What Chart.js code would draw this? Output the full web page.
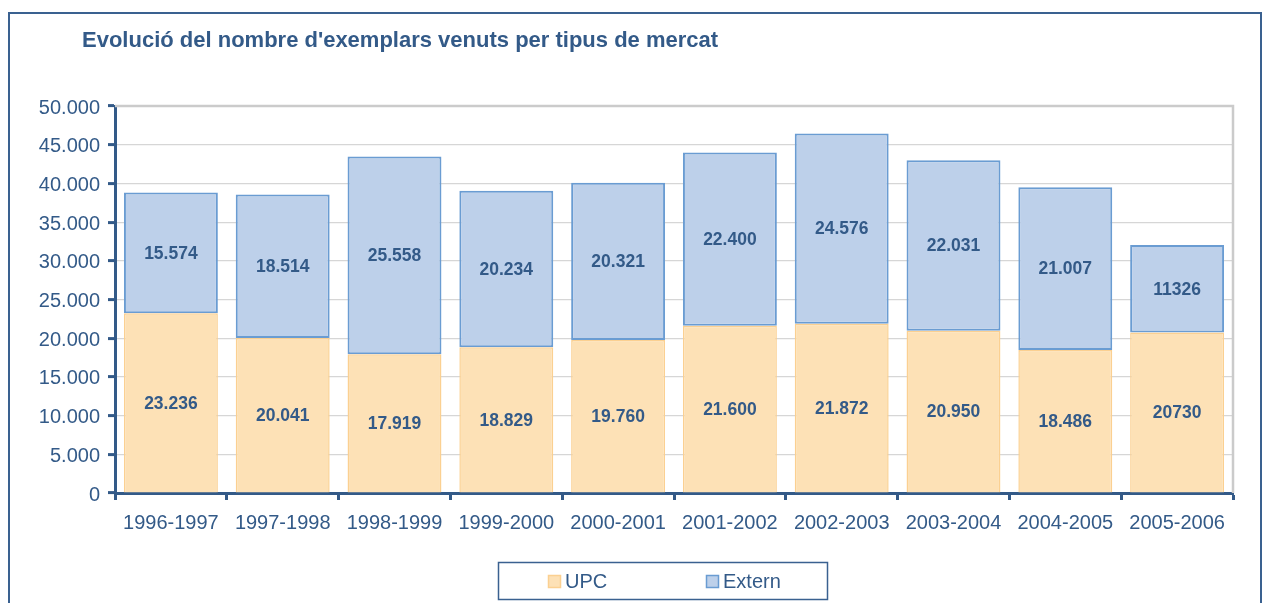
<!DOCTYPE html>
<html>
<head>
<meta charset="utf-8">
<script src="https://cdn.jsdelivr.net/npm/chart.js@4.4.1/dist/chart.umd.min.js"></script>
<style>
  html, body { margin: 0; padding: 0; background: #fff; }
  #wrap { width: 1262px; height: 603px; position: relative; }
</style>
</head>
<body>
<div id="wrap"><canvas id="chart" width="1262" height="603"></canvas></div>
<script>
// ------------------------
// Data
// ------------------------
const seasons = ["1996-1997", "1997-1998", "1998-1999", "1999-2000", "2000-2001",
                 "2001-2002", "2002-2003", "2003-2004", "2004-2005", "2005-2006"];
const upcValues = [23236, 20041, 17919, 18829, 19760, 21600, 21872, 20950, 18486, 20730];
const externValues = [15574, 18514, 25558, 20234, 20321, 22400, 24576, 22031, 21007, 11326];
const upcText = ["23.236", "20.041", "17.919", "18.829", "19.760", "21.600", "21.872", "20.950", "18.486", "20730"];
const externText = ["15.574", "18.514", "25.558", "20.234", "20.321", "22.400", "24.576", "22.031", "21.007", "11326"];
const titleText = "Evolució del nombre d'exemplars venuts per tipus de mercat";

const DARK = "#335A88";
const FONT = "Arial, 'Liberation Sans', sans-serif";

const fmt = v => String(v).replace(/\B(?=(\d{3})+(?!\d))/g, ".");

// ------------------------
// Plugins
// ------------------------
const framePlugin = {
    id: "frame",
    beforeDraw(chart) {
        const ctx = chart.ctx;
        ctx.save();
        ctx.strokeStyle = "#3A6190";
        ctx.lineWidth = 2;
        ctx.strokeRect(9, 13, 1252, 700);
        ctx.fillStyle = DARK;
        ctx.font = "bold 22px " + FONT;
        ctx.textBaseline = "alphabetic";
        ctx.textAlign = "left";
        ctx.fillText(titleText, 82, 47);
        ctx.restore();
    },
    beforeDatasetsDraw(chart) {
        const { ctx, chartArea } = chart;
        ctx.save();
        ctx.strokeStyle = "#CBCBCB";
        ctx.lineWidth = 2.5;
        ctx.beginPath();
        ctx.moveTo(chartArea.left, chartArea.top);
        ctx.lineTo(chartArea.right, chartArea.top);
        ctx.lineTo(chartArea.right, chartArea.bottom);
        ctx.stroke();
        ctx.restore();
    }
};

const valueLabelPlugin = {
    id: "valueLabels",
    afterDatasetsDraw(chart) {
        const ctx = chart.ctx;
        const texts = [upcText, externText];
        ctx.save();
        ctx.fillStyle = DARK;
        ctx.font = "bold 17.5px " + FONT;
        ctx.textAlign = "center";
        ctx.textBaseline = "middle";
        chart.data.datasets.forEach((ds, di) => {
            chart.getDatasetMeta(di).data.forEach((bar, i) => {
                const p = bar.getProps(["x", "y", "base"], true);
                ctx.fillText(texts[di][i], p.x, (p.y + p.base) / 2 + 1);
            });
        });
        ctx.restore();
    }
};

const legendBoxPlugin = {
    id: "legendBox",
    afterDraw(chart) {
        const ctx = chart.ctx;
        ctx.save();
        ctx.strokeStyle = "#3A6190";
        ctx.lineWidth = 1.5;
        ctx.strokeRect(498.5, 562.5, 329, 37);
        const starts = [548, 706];
        ctx.font = "20px " + FONT;
        ctx.textBaseline = "middle";
        ctx.textAlign = "left";
        chart.data.datasets.forEach((ds, i) => {
            ctx.fillStyle = ds.backgroundColor;
            ctx.fillRect(starts[i], 575, 13, 13);
            ctx.strokeStyle = ds.borderColor;
            ctx.lineWidth = 1.5;
            ctx.strokeRect(starts[i] + 0.5, 575.5, 12, 12);
            ctx.fillStyle = DARK;
            ctx.fillText(ds.label, starts[i] + 17, 582);
        });
        ctx.restore();
    }
};

// ------------------------
// Chart
// ------------------------
new Chart(document.getElementById("chart").getContext("2d"), {
    type: "bar",
    data: {
        labels: seasons,
        datasets: [
            {
                label: "UPC",
                data: upcValues,
                backgroundColor: "#FDE1B6",
                borderColor: "#FBD091",
                borderWidth: 1.5,
                barPercentage: 0.84,
                categoryPercentage: 1
            },
            {
                label: "Extern",
                data: externValues,
                backgroundColor: "#BDD0EA",
                borderColor: "#6A9CD2",
                borderWidth: 2,
                borderSkipped: false,
                barPercentage: 0.84,
                categoryPercentage: 1
            }
        ]
    },
    options: {
        responsive: false,
        animation: false,
        layout: { padding: { left: 0, right: 29, top: 106, bottom: 0 } },
        plugins: {
            legend: { display: false },
            title: { display: false },
            tooltip: { enabled: false }
        },
        scales: {
            x: {
                stacked: true,
                afterFit: s => { s.height = 110; },
                border: { color: DARK, width: 3 },
                grid: { drawOnChartArea: false, drawTicks: true, tickLength: 7, tickColor: DARK, tickWidth: 3, offset: true },
                ticks: { color: DARK, font: { family: FONT, size: 20 }, padding: 11, maxRotation: 0 }
            },
            y: {
                stacked: true,
                min: 0,
                max: 50000,
                afterFit: s => { s.width = 115; },
                border: { color: DARK, width: 3 },
                grid: { color: "#D6D6D6", lineWidth: 1.2, drawTicks: true, tickLength: 7, tickColor: DARK, tickWidth: 3 },
                ticks: { stepSize: 5000, color: DARK, font: { family: FONT, size: 20 }, padding: 8, labelOffset: 2, callback: v => fmt(v) }
            }
        }
    },
    plugins: [framePlugin, valueLabelPlugin, legendBoxPlugin]
});
</script>
</body>
</html>
